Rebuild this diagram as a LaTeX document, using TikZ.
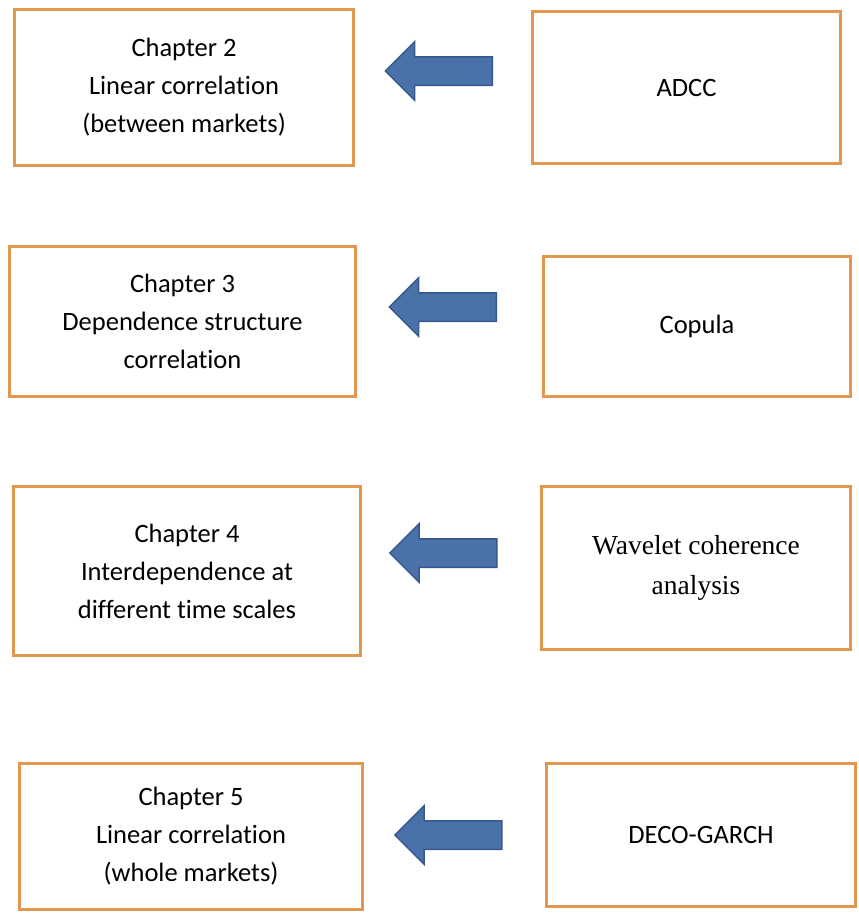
\documentclass[tikz,border=0pt]{standalone}
\usepackage{fontspec}
\setmainfont{Carlito}[Ligatures=NoCommon]
\newfontfamily\timesfont{Liberation Serif}
\usepackage{tikz}
\usetikzlibrary{shapes.arrows,positioning}

\definecolor{boxorange}{RGB}{226,150,78}
\definecolor{arrowfill}{RGB}{74,114,170}
\definecolor{arrowline}{RGB}{54,88,138}

\begin{document}
\begin{tikzpicture}[
            x=1pt, y=-1pt,
            chapbox/.style={draw=boxorange, line width=3pt, align=center, font=\fontsize{26.5}{38}\selectfont, inner sep=0pt},
            methbox/.style={chapbox},
            leftarrow/.style={single arrow, shape border rotate=180, fill=arrowfill, draw=arrowline, line width=1.5pt,
                inner sep=13.5pt, single arrow head extend=15pt, single arrow head indent=0pt, minimum height=107pt}
        ]
        \useasboundingbox (0,0) rectangle (859,914);
        % chapters
        \node[chapbox, minimum width=339pt, minimum height=156pt] (ch2) at (184,87.5) {Chapter 2\\Linear correlation\\(between markets)};
        \node[chapbox, minimum width=346pt, minimum height=150pt] (ch3) at (182.5,321.5) {Chapter 3\\Dependence structure\\correlation};
        \node[chapbox, minimum width=347pt, minimum height=169pt] (ch4) at (187,571) {Chapter 4\\Interdependence at\\different time scales};
        \node[chapbox, minimum width=343pt, minimum height=146pt] (ch5) at (191,836.5) {Chapter 5\\Linear correlation\\(whole markets)};
        % methods
        \node[methbox, minimum width=308pt, minimum height=152pt] (adcc) at (686.5,87.5) {ADCC};
        \node[methbox, minimum width=307pt, minimum height=140pt] (copula) at (697,326.5) {Copula};
        \node[methbox, minimum width=309pt, minimum height=163pt, font=\timesfont\fontsize{27.5}{40}\selectfont] (wavelet) at (696,568) {Wavelet coherence\\analysis};
        \node[methbox, minimum width=309pt, minimum height=143pt] (deco) at (701,835) {DECO-GARCH};
        % block arrows
        \node[leftarrow] (a2) at (446,71) {};
        \node[leftarrow] (a3) at (450,307) {};
        \node[leftarrow] (a4) at (450.5,553) {};
        \node[leftarrow] (a5) at (455.5,835) {};
        \end{tikzpicture}
\end{document}
